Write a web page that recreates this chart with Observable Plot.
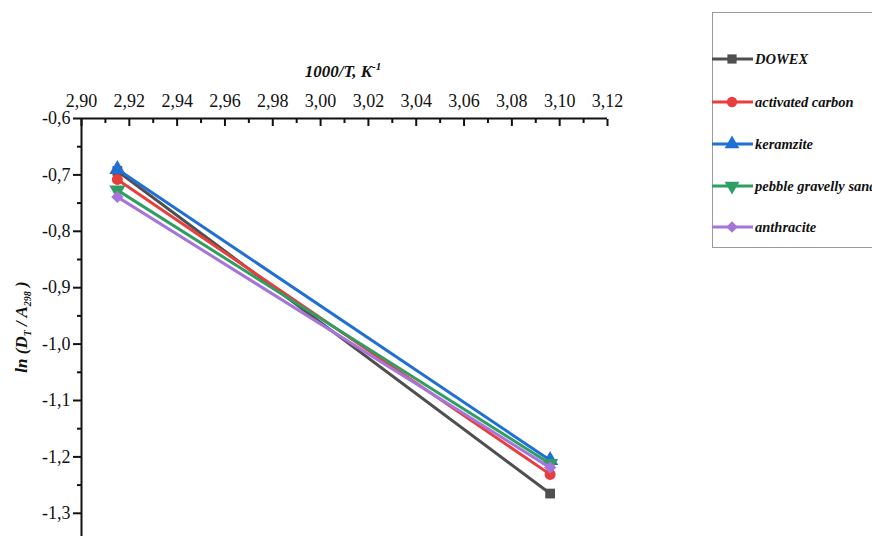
<!DOCTYPE html>
<html>
<head>
<meta charset="utf-8">
<script src="https://cdn.jsdelivr.net/npm/d3@7"></script>
<script src="https://cdn.jsdelivr.net/npm/@observablehq/plot@0.6"></script>
<style>
html, body { margin: 0; padding: 0; overflow: hidden; background: #fff; }
#wrap { position: relative; width: 872px; height: 536px; overflow: hidden; }
#wrap svg text { font-family: 'Liberation Serif', 'Times New Roman', 'DejaVu Serif', serif !important; }
#legend { position: absolute; left: 712px; top: 12px; width: 200px; height: 236px;
  border: 1px solid #9a9a9a; border-right: none; box-sizing: border-box; }
.item { position: absolute; left: -1px; height: 20px; display: flex; align-items: center;
  font-family: 'Liberation Serif', 'Times New Roman', 'DejaVu Serif', serif; font-style: italic; font-weight: bold;
  font-size: 14.5px; color: #111; white-space: nowrap; }
.item svg { display: block; margin-right: 1px; }
</style>
</head>
<body>
<div id="wrap"><div id="legend"></div></div>
<script>
// ---- data ----
const invT = [2.915, 3.096];
const seriesNames = ["DOWEX", "activated carbon", "keramzite", "pebble gravelly sand", "anthracite"];
const dowex = [-0.693, -1.265];
const activatedCarbon = [-0.708, -1.231];
const keramzite = [-0.690, -1.206];
const pebble = [-0.727, -1.212];
const anthracite = [-0.739, -1.219];
const seriesColors = ["#4f4f4f", "#e83e3e", "#1f6fd4", "#2f9e62", "#a774db"];
const seriesSymbols = ["square", "circle", "triangle", "triangle", "diamond2"];
const seriesRotate = [0, 0, 0, 180, 0];
const xMajor = [2.90, 2.92, 2.94, 2.96, 2.98, 3.00, 3.02, 3.04, 3.06, 3.08, 3.10, 3.12];
const xMinor = [2.91, 2.93, 2.95, 2.97, 2.99, 3.01, 3.03, 3.05, 3.07, 3.09, 3.11];
const yMajor = [-0.6, -0.7, -0.8, -0.9, -1.0, -1.1, -1.2, -1.3];
const yMinor = [-0.65, -0.75, -0.85, -0.95, -1.05, -1.15, -1.25, -1.35];

const values = [dowex, activatedCarbon, keramzite, pebble, anthracite];
const rows = [];
seriesNames.forEach((s, i) => invT.forEach((x, j) => rows.push({series: s, x, y: values[i][j], idx: i})));

const comma2 = d => d.toFixed(2).replace(".", ",");
const comma1 = d => d.toFixed(1).replace(".", ",");
const FONT = "'Liberation Serif', 'Times New Roman', 'DejaVu Serif', serif";

const marks = [];
seriesNames.forEach((s, i) => {
  const d = rows.filter(r => r.idx === i);
  marks.push(Plot.line(d, {x: "x", y: "y", stroke: seriesColors[i], strokeWidth: 3}));
  marks.push(Plot.dot(d, {x: "x", y: "y", fill: seriesColors[i], stroke: "none",
    symbol: seriesSymbols[i], rotate: seriesRotate[i], r: seriesSymbols[i] === "triangle" ? 6 : 5.5}));
});

const chart = Plot.plot({
  width: 872,
  height: 541,
  marginTop: 118,
  marginLeft: 81,
  marginRight: 265,
  marginBottom: 0,
  style: {fontFamily: FONT, fontSize: "18px", color: "#111", background: "transparent"},
  x: {domain: [2.90, 3.12], axis: null},
  y: {domain: [-1.35, -0.6], axis: null},
  marks: [
    Plot.axisX(xMajor, {anchor: "top", tickSize: 0, tickPadding: 12, tickFormat: comma2, label: null, fontSize: 18}),
    Plot.axisX(xMajor, {anchor: "top", tickSize: -7, tickFormat: () => "", label: null, strokeWidth: 2}),
    Plot.axisX(xMinor, {anchor: "top", tickSize: -4, tickFormat: () => "", label: null, strokeWidth: 2}),
    Plot.axisY(yMajor, {anchor: "left", tickSize: 8, tickPadding: 3, tickFormat: comma1, label: null, fontSize: 18, strokeWidth: 2}),
    Plot.axisY(yMinor, {anchor: "left", tickSize: 4, tickFormat: () => "", label: null, strokeWidth: 2}),
    Plot.ruleY([-0.6], {stroke: "#111", strokeWidth: 2}),
    Plot.ruleX([2.90], {stroke: "#111", strokeWidth: 2}),
    ...marks
  ]
});

const svg = d3.select(chart);
// x axis title
const xt = svg.append("text")
  .attr("x", 343).attr("y", 77)
  .attr("text-anchor", "middle")
  .attr("font-family", FONT).attr("font-style", "italic").attr("font-weight", "bold")
  .attr("font-size", 17).attr("fill", "#111");
xt.append("tspan").text("1000/T, K");
xt.append("tspan").attr("font-size", 11).attr("dy", -7).text("-1");

// y axis title
const yt = svg.append("text")
  .attr("transform", "translate(27,327) rotate(-90)")
  .attr("text-anchor", "middle")
  .attr("font-family", FONT).attr("font-style", "italic").attr("font-weight", "bold")
  .attr("font-size", 17).attr("fill", "#111");
yt.append("tspan").text("ln (D");
yt.append("tspan").attr("font-size", 10).attr("dy", 4).text("T");
yt.append("tspan").attr("dy", -4).text(" / A");
yt.append("tspan").attr("font-size", 10).attr("dy", 4).text("298");
yt.append("tspan").attr("dy", -4).text(" )");

document.getElementById("wrap").prepend(chart);

// legend
const legend = document.getElementById("legend");
const legendTops = [58, 101, 143, 185, 226];
seriesNames.forEach((s, i) => {
  const item = document.createElement("div");
  item.className = "item";
  item.style.top = (legendTops[i] - 12 - 10) + "px";
  const ls = d3.create("svg").attr("width", 42).attr("height", 20);
  ls.append("line").attr("x1", 0).attr("x2", 41).attr("y1", 10).attr("y2", 10)
    .attr("stroke", seriesColors[i]).attr("stroke-width", 3);
  const symMap = {square: d3.symbolSquare, circle: d3.symbolCircle, triangle: d3.symbolTriangle, diamond2: d3.symbolDiamond2};
  const size = seriesSymbols[i] === "triangle" ? 95 : 85;
  ls.append("path").attr("d", d3.symbol(symMap[seriesSymbols[i]], size)())
    .attr("transform", `translate(20,10) rotate(${seriesRotate[i]})`)
    .attr("fill", seriesColors[i]);
  item.appendChild(ls.node());
  const sp = document.createElement("span");
  sp.textContent = s;
  item.appendChild(sp);
  legend.appendChild(item);
});
</script>
</body>
</html>
